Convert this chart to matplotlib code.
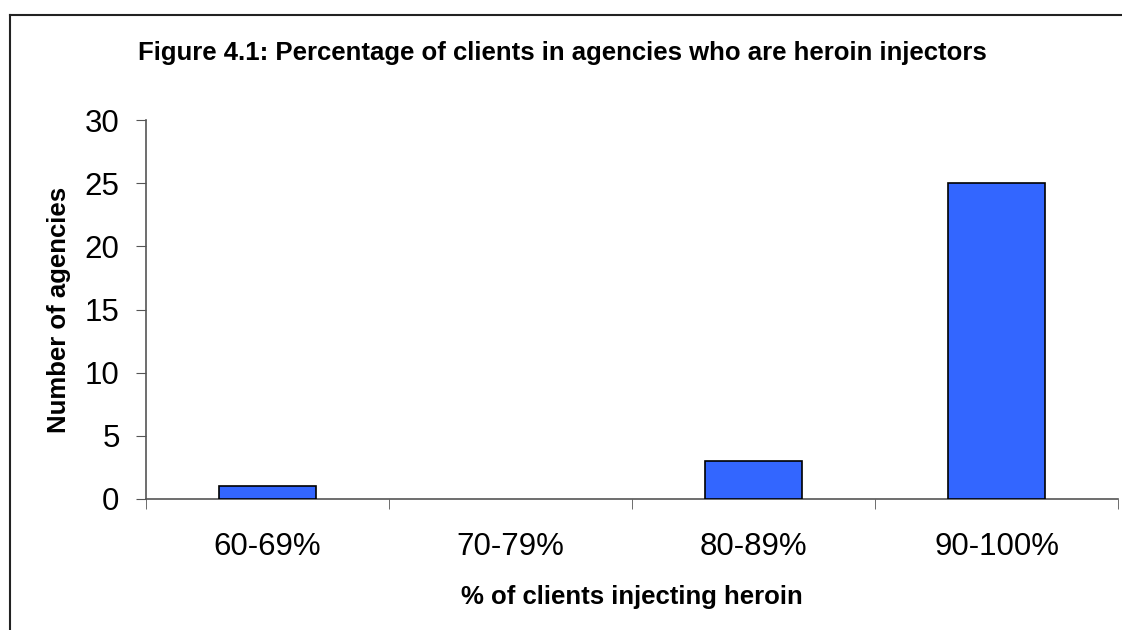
import numpy as np
import matplotlib.pyplot as plt
from matplotlib.lines import Line2D
from matplotlib.ticker import FixedLocator

categories = ["60-69%", "70-79%", "80-89%", "90-100%"]
agencies = [1, 0, 3, 25]

plt.rcParams['font.family'] = ['Liberation Sans', 'DejaVu Sans']

fig = plt.figure(figsize=(11.22, 6.3), dpi=100)
ax = fig.add_axes([146 / 1122, 1 - 499 / 630, (1118 - 146) / 1122, (499 - 120) / 630])

x = np.arange(len(categories))
# Excel draws no outline for empty bars
widths = [1.2 if v > 0 else 0 for v in agencies]
ax.bar(x, agencies, width=0.4, color="#3366FF", edgecolor="black", linewidth=widths, zorder=3)

ax.set_xlim(-0.5, len(categories) - 0.5)
ax.set_ylim(0, 30)
ax.set_yticks(range(0, 31, 5))
ax.set_xticks(x)
ax.set_xticklabels(categories)
ax.xaxis.set_minor_locator(FixedLocator(np.arange(-0.5, len(categories), 1.0)))
ax.tick_params(axis="x", which="major", length=0, pad=24, labelsize=22.5)
ax.tick_params(axis="x", which="minor", length=7, direction="out", color="#555555")
ax.tick_params(axis="y", length=7, direction="out", color="#555555", labelsize=22.5, pad=12)

for s in ["top", "right"]:
    ax.spines[s].set_visible(False)
for s in ["left", "bottom"]:
    ax.spines[s].set_color("#555555")
    ax.spines[s].set_linewidth(1.2)

ax.set_xlabel("% of clients injecting heroin", fontsize=18.5, fontweight="bold", labelpad=16)
ax.set_ylabel("Number of agencies", fontsize=18.5, fontweight="bold", labelpad=10)

fig.text(562 / 1122, 1 - 53 / 630, "Figure 4.1: Percentage of clients in agencies who are heroin injectors",
         ha="center", va="center", fontsize=18.5, fontweight="bold")

# outer chart border (only top and left visible in the crop)
fig.add_artist(Line2D([10 / 1122, 10 / 1122], [0, 1 - 15 / 630], transform=fig.transFigure,
                      color="#222222", linewidth=1.5))
fig.add_artist(Line2D([10 / 1122, 1], [1 - 15 / 630, 1 - 15 / 630], transform=fig.transFigure,
                      color="#222222", linewidth=1.5))

fig.savefig("out.png", dpi=100)
